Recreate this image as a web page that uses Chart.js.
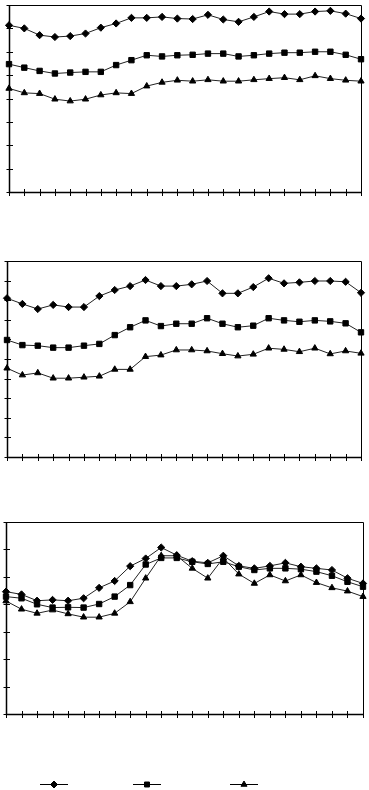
<!DOCTYPE html>
<html>
<head>
<meta charset="utf-8">
<script src="https://cdn.jsdelivr.net/npm/chart.js@4/dist/chart.umd.min.js"></script>
<style>
  body { margin: 0; background: #fff; width: 369px; height: 790px; position: relative; overflow: hidden; }
  canvas { position: absolute; left: 0; }
</style>
</head>
<body>
<canvas id="c1" width="369" height="200" style="top:0px"></canvas>
<canvas id="c2" width="369" height="210" style="top:255px"></canvas>
<canvas id="c3" width="369" height="275" style="top:515px"></canvas>
<script>
// 24 hourly points per panel
const hours = ['1','2','3','4','5','6','7','8','9','10','11','12','13','14','15','16','17','18','19','20','21','22','23','24'];

// panel 1 (axis 0-80)
const top1 = [71.3, 70.0, 67.1, 66.3, 66.7, 67.8, 70.3, 72.1, 74.5, 74.5, 74.9, 74.2, 74.0, 75.8, 73.8, 72.8, 74.9, 77.2, 76.1, 76.1, 77.2, 77.5, 76.3, 74.2];
const mid1 = [54.7, 53.2, 51.8, 50.7, 51.1, 51.4, 51.4, 54.3, 56.4, 58.5, 58.0, 58.5, 58.7, 59.2, 59.2, 58.0, 58.5, 59.2, 59.6, 59.6, 60.0, 60.0, 58.7, 56.8];
const low1 = [44.3, 42.4, 42.1, 39.7, 38.9, 39.7, 41.5, 42.4, 42.1, 45.3, 46.9, 47.8, 47.4, 48.0, 47.4, 47.4, 48.0, 48.5, 48.9, 48.0, 49.7, 48.5, 47.8, 47.4];

// panel 2 (axis 0-100)
const top2 = [81.0, 78.1, 75.5, 77.6, 76.5, 76.5, 82.1, 85.2, 87.2, 90.3, 87.2, 87.2, 88.1, 89.8, 83.5, 83.5, 86.7, 91.2, 88.6, 89.1, 89.8, 89.8, 89.4, 83.8];
const mid2 = [59.7, 57.1, 56.8, 55.8, 55.8, 56.8, 57.7, 62.2, 66.2, 69.7, 66.8, 68.0, 68.0, 70.8, 68.0, 66.2, 67.0, 70.8, 69.7, 69.0, 69.7, 69.2, 68.2, 63.6];
const low2 = [45.3, 41.8, 42.9, 40.2, 40.2, 40.7, 41.2, 44.7, 44.7, 51.2, 52.0, 54.6, 54.6, 54.1, 52.7, 51.5, 52.4, 55.5, 54.9, 53.7, 55.5, 52.6, 54.1, 52.9];

// panel 3 (axis 0-70)
const top3 = [44.6, 43.6, 41.3, 41.6, 41.3, 42.2, 46.0, 48.5, 53.9, 56.7, 60.7, 57.9, 55.7, 55.1, 57.7, 54.0, 53.1, 54.0, 55.1, 53.7, 53.1, 52.5, 49.5, 47.6];
const mid3 = [42.8, 42.2, 40.0, 38.8, 38.9, 38.8, 40.1, 42.8, 47.0, 54.5, 56.9, 56.9, 55.5, 54.7, 55.5, 53.7, 52.5, 53.1, 53.1, 52.8, 51.9, 50.4, 48.2, 46.4];
const low3 = [41.2, 38.2, 36.7, 37.9, 36.5, 35.3, 35.3, 36.7, 40.9, 49.5, 57.7, 57.7, 53.1, 49.5, 56.9, 51.0, 47.6, 50.7, 48.5, 50.7, 47.9, 46.0, 44.8, 42.8];

const markers = ['rectRot', 'rect', 'triangle'];

// axes, box and crossing tick marks drawn from the chart's own scales
const framePlugin = {
  id: 'frame',
  beforeDatasetsDraw(chart) {
    const ctx = chart.ctx;
    const a = chart.chartArea;
    const x = chart.scales.x, y = chart.scales.y;
    const L = Math.round(a.left) + 0.5, R = Math.round(a.right) + 0.5;
    const T = Math.round(a.top) + 0.5, B = Math.round(a.bottom) + 0.5;
    ctx.save();
    ctx.strokeStyle = '#000';
    ctx.lineWidth = 1;
    ctx.beginPath();
    ctx.moveTo(L, T); ctx.lineTo(R, T); ctx.lineTo(R, B);
    ctx.stroke();
    // left and bottom axes a bit heavier
    ctx.lineWidth = 1.5;
    ctx.beginPath();
    ctx.moveTo(L, T); ctx.lineTo(L, B); ctx.lineTo(R, B);
    ctx.stroke();
    ctx.lineWidth = 1;
    ctx.beginPath();
    y.ticks.forEach((t, i) => {
      const py = Math.round(y.getPixelForTick(i)) + 0.5;
      ctx.moveTo(L - 3, py); ctx.lineTo(L + 3.5, py);
    });
    x.ticks.forEach((t, i) => {
      const px = Math.round(x.getPixelForTick(i)) + 0.5;
      ctx.moveTo(px, B - 3.5); ctx.lineTo(px, B + 3.5);
    });
    ctx.stroke();
    ctx.restore();
  }
};

// line + marker legend below the last panel, no text
const legendPlugin = {
  id: 'lineLegend',
  afterDraw(chart) {
    const ctx = chart.ctx;
    const centers = [54, 147, 244];
    const ly = 269.5;
    ctx.save();
    chart.data.datasets.forEach((ds, i) => {
      ctx.strokeStyle = '#000';
      ctx.lineWidth = 1;
      ctx.beginPath();
      ctx.moveTo(centers[i] - 14, ly); ctx.lineTo(centers[i] + 14, ly);
      ctx.stroke();
      ctx.fillStyle = '#000';
      Chart.helpers.drawPoint(ctx, { pointStyle: ds.pointStyle, radius: 3.5, borderWidth: 1, rotation: 0 }, centers[i], ly);
    });
    ctx.restore();
  }
};

function makeSets(series) {
  return series.map((d, i) => ({
    data: d,
    pointStyle: markers[i],
    pointRadius: i === 1 ? 3.8 : 3.6,
    pointBackgroundColor: '#000',
    pointBorderColor: '#000',
    pointBorderWidth: 1,
    borderColor: '#222',
    borderWidth: 1,
    tension: 0,
    clip: false
  }));
}

function makeChart(id, series, yMax, pad, extra) {
  return new Chart(document.getElementById(id), {
    type: 'line',
    data: { labels: hours, datasets: makeSets(series) },
    options: {
      responsive: false,
      animation: false,
      devicePixelRatio: 1,
      layout: { padding: pad },
      plugins: { legend: { display: false }, tooltip: { enabled: false } },
      scales: {
        x: { display: false, offset: false, ticks: { autoSkip: false } },
        y: { display: false, min: 0, max: yMax, ticks: { stepSize: 10, autoSkip: false } }
      }
    },
    plugins: [framePlugin].concat(extra || [])
  });
}

makeChart('c1', [top1, mid1, low1], 80, { top: 0, bottom: 8, left: 9, right: 8 });
makeChart('c2', [top2, mid2, low2], 100, { top: 6, bottom: 8, left: 7, right: 8 });
makeChart('c3', [top3, mid3, low3], 70, { top: 7, bottom: 76, left: 6, right: 6 }, [legendPlugin]);
</script>
</body>
</html>
